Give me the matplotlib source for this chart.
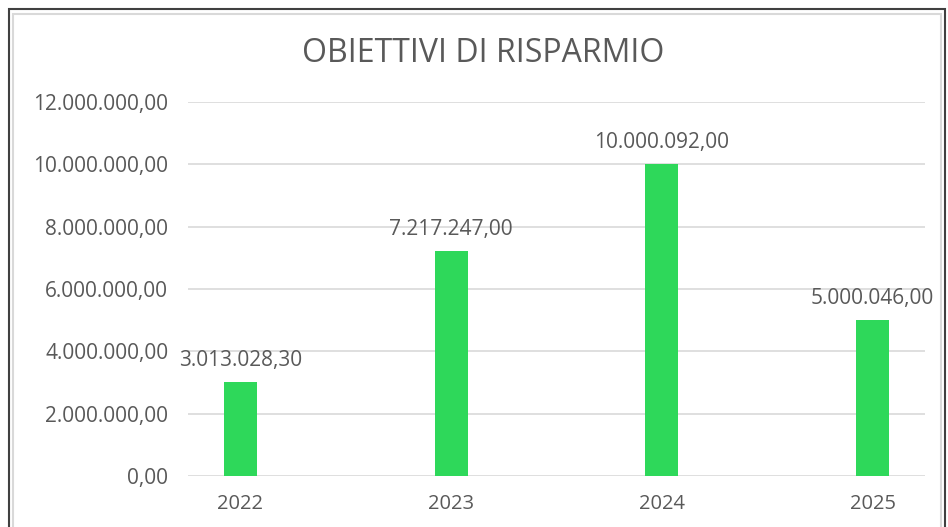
import matplotlib
matplotlib.use("Agg")
import matplotlib.pyplot as plt
from matplotlib.patches import Rectangle

# dati
anni = ["2022", "2023", "2024", "2025"]
obiettivi = [3013028.30, 7217247.00, 10000092.00, 5000046.00]
etichette = ["3.013.028,30", "7.217.247,00", "10.000.092,00", "5.000.046,00"]
yticks = [0, 2000000, 4000000, 6000000, 8000000, 10000000, 12000000]


def fmt_it(v):
    s = "{:,.2f}".format(v)
    return s.replace(",", "X").replace(".", ",").replace("X", ".")


plt.rcParams["font.family"] = ["Open Sans", "DejaVu Sans"]
grigio = "#595959"

fig = plt.figure(figsize=(9.48, 5.27), dpi=100)
ax = fig.add_axes([0.198, 0.0968, 0.778, 0.7097])

x = list(range(len(anni)))
ax.bar(x, obiettivi, width=0.156, color="#2ED85A", zorder=3)

for xi, v, lab in zip(x, obiettivi, etichette):
    ax.annotate(lab, (xi, v), xytext=(0, 8), textcoords="offset points",
                ha="center", va="bottom", fontsize=15, color=grigio)

ax.set_xlim(-0.25, 3.25)
ax.set_ylim(0, 12000000)
ax.set_yticks(yticks)
ax.set_yticklabels([fmt_it(t) for t in yticks])
ax.set_xticks(x)
ax.set_xticklabels(anni)
ax.tick_params(axis="y", length=0, labelsize=15, colors=grigio, pad=14)
ax.tick_params(axis="x", length=0, labelsize=14.5, colors=grigio, pad=13)
ax.yaxis.grid(True, color="#D9D9D9", linewidth=1.2, zorder=0)
for s in ax.spines.values():
    s.set_visible(False)

fig.text(0.51, 0.898, "OBIETTIVI DI RISPARMIO", ha="center", va="center",
         fontsize=23, color=grigio)

# cornici
fig.patches.append(Rectangle((9 / 948, -0.05), 936 / 948, 1 - 9 / 527 + 0.05,
                             transform=fig.transFigure, fill=False,
                             edgecolor="#404040", linewidth=1.5))
fig.patches.append(Rectangle((13 / 948, -0.05), 928 / 948, 1 - 14 / 527 + 0.05,
                             transform=fig.transFigure, fill=False,
                             edgecolor="#D9D9D9", linewidth=1.5))

fig.savefig("out.png", dpi=100)
